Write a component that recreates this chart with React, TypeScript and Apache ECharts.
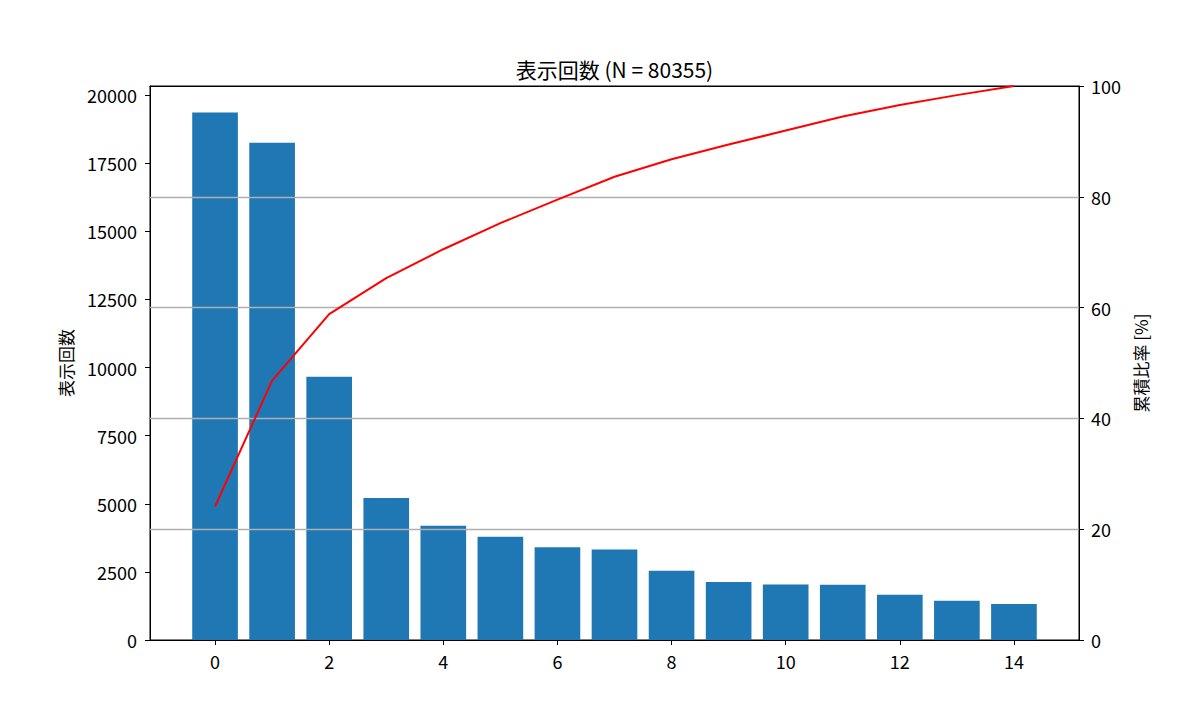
import React, { useEffect, useRef } from "react";
import * as echarts from "echarts";

const categories = [0, 1, 2, 3, 4, 5, 6, 7, 8, 9, 10, 11, 12, 13, 14];
const counts = [19365, 18250, 9660, 5210, 4195, 3790, 3400, 3320, 2545, 2125, 2035, 2030, 1665, 1440, 1325];
const xTicks = [0, 2, 4, 6, 8, 10, 12, 14];
const leftTicks = [0, 2500, 5000, 7500, 10000, 12500, 15000, 17500, 20000];
const rightTicks = [0, 20, 40, 60, 80, 100];
const titleText = "表示回数 (N = 80355)";
const leftName = "表示回数";
const rightName = "累積比率 [%]";

const FONT = '"Noto Sans CJK JP", "Noto Sans", sans-serif';

export default function App() {
  const ref = useRef<HTMLDivElement>(null);
  useEffect(() => {
    if (!ref.current) return;
    const chart = echarts.init(ref.current, undefined, { renderer: "svg" });
    const total = counts.reduce((a, b) => a + b, 0);
    let run = 0;
    const cum = counts.map((c) => {
      run += c;
      return (run / total) * 100;
    });
    const gridLeft = 150;
    const gridRight = 1079;
    const xMin = -1.14;
    const xMax = 15.14;
    const barPx = ((gridRight - gridLeft) / (xMax - xMin)) * 0.8;
    const yMax = Math.max(...counts) * 1.05;
    const tickStyle = { color: "#000", fontSize: 18, fontFamily: FONT };
    chart.setOption({
      animation: false,
      backgroundColor: "#fff",
      textStyle: { fontFamily: FONT },
      graphic: [
        {
          type: "text",
          x: (gridLeft + gridRight) / 2,
          y: 69,
          style: {
            text: titleText,
            fill: "#000",
            fontSize: 21,
            fontFamily: FONT,
            textAlign: "center",
            textVerticalAlign: "middle",
          },
        },
      ],
      grid: {
        left: gridLeft,
        right: 1200 - gridRight,
        top: 86,
        bottom: 80,
        show: true,
        borderColor: "#000",
        borderWidth: 1,
        backgroundColor: "transparent",
      },
      xAxis: [
        {
          type: "value",
          min: xMin,
          max: xMax,
          splitLine: { show: false },
          axisLine: { show: true, onZero: false, lineStyle: { color: "#000", width: 1 } },
          axisTick: { show: true, customValues: xTicks, length: 5, lineStyle: { color: "#000" } },
          axisLabel: { customValues: xTicks, margin: 12, ...tickStyle, formatter: (v: number) => String(v) },
        },
        {
          type: "value",
          position: "top",
          min: xMin,
          max: xMax,
          z: 4,
          splitLine: { show: false },
          axisLine: { show: true, onZero: false, lineStyle: { color: "#000", width: 1 } },
          axisTick: { show: false },
          axisLabel: { show: false },
        },
      ],
      yAxis: [
        {
          type: "value",
          min: 0,
          max: yMax,
          position: "left",
          name: leftName,
          nameLocation: "middle",
          nameRotate: 90,
          nameGap: 76,
          nameTextStyle: { color: "#000", fontSize: 17, fontFamily: FONT },
          splitLine: { show: false },
          axisLine: { show: true, onZero: false, lineStyle: { color: "#000", width: 1 } },
          axisTick: { show: true, customValues: leftTicks, length: 5, lineStyle: { color: "#000" } },
          axisLabel: { customValues: leftTicks, margin: 13, ...tickStyle, formatter: (v: number) => String(v) },
        },
        {
          type: "value",
          min: 0,
          max: 100,
          interval: 20,
          position: "right",
          z: 3,
          name: rightName,
          nameLocation: "middle",
          nameRotate: 90,
          nameGap: 40,
          nameTextStyle: { color: "#000", fontSize: 17, fontFamily: FONT },
          splitLine: {
            show: true,
            showMinLine: false,
            showMaxLine: false,
            lineStyle: { color: "#b0b0b0", width: 1.3 },
          },
          axisLine: { show: true, onZero: false, lineStyle: { color: "#000", width: 1 } },
          axisTick: { show: true, length: 5, lineStyle: { color: "#000" } },
          axisLabel: { customValues: rightTicks, margin: 12, ...tickStyle, formatter: (v: number) => String(v) },
        },
      ],
      series: [
        {
          type: "bar",
          name: leftName,
          xAxisIndex: 0,
          yAxisIndex: 0,
          barWidth: barPx,
          z: 2,
          itemStyle: { color: "#1f77b4" },
          data: categories.map((c, i) => [c, counts[i]]),
        },
        {
          type: "line",
          name: rightName,
          xAxisIndex: 0,
          yAxisIndex: 1,
          z: 5,
          symbol: "none",
          lineStyle: { color: "#ff0000", width: 2 },
          itemStyle: { color: "#ff0000" },
          data: categories.map((c, i) => [c, cum[i]]),
        },
      ],
    });
    return () => chart.dispose();
  }, []);
  return (
    <div
      ref={ref}
      style={{ position: "fixed", left: 0, top: 0, width: 1200, height: 720, background: "#fff" }}
    />
  );
}
